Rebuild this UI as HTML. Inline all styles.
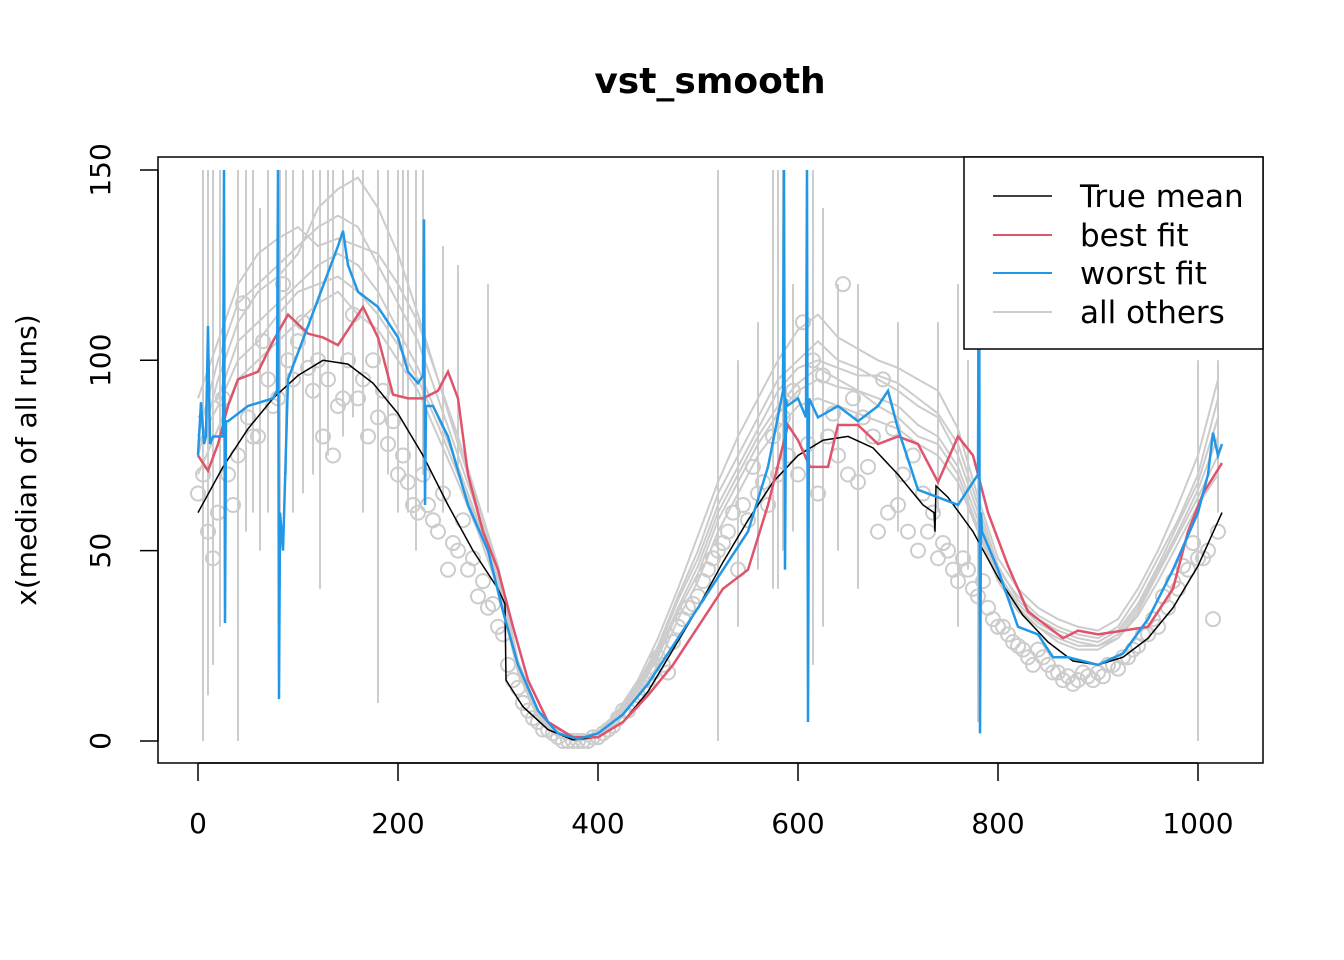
<!DOCTYPE html>
<html><head><meta charset="utf-8"><style>
html,body{margin:0;padding:0;background:#fff;}
svg{display:block;font-family:"DejaVu Sans","Liberation Sans",sans-serif;}
</style></head><body>
<svg id="chart" width="1344" height="960" viewBox="0 0 1344 960">
<text x="710" y="93" text-anchor="middle" font-size="36" font-weight="bold">vst_smooth</text>
<g id="plot"></g>
<rect x="158" y="157" width="1105" height="606" fill="none" stroke="#000" stroke-width="1.5"/>
<g id="axes"></g>
<text transform="translate(36,460) rotate(-90)" text-anchor="middle" font-size="28">x(median of all runs)</text>
<g>
<rect x="964" y="157" width="299" height="192" fill="#fff" stroke="#000" stroke-width="1.5"/>
<line x1="993" y1="196" x2="1052" y2="196" stroke="#000" stroke-width="1.5"/>
<text x="1080" y="207" font-size="31">True mean</text>
<line x1="993" y1="235" x2="1052" y2="235" stroke="#DF536B" stroke-width="2"/>
<text x="1080" y="246" font-size="31">best fit</text>
<line x1="993" y1="273" x2="1052" y2="273" stroke="#2297E6" stroke-width="2"/>
<text x="1080" y="284" font-size="31">worst fit</text>
<line x1="993" y1="312" x2="1052" y2="312" stroke="#cccccc" stroke-width="2"/>
<text x="1080" y="323" font-size="31">all others</text>
</g>
</svg>
<script>
const xTicks=[0,200,400,600,800,1000];
const yTicks=[0,50,100,150];
const trueX=[0,25,50,75,100,125,150,175,200,225,250,275,300,307,308,325,350,375,400,425,450,475,500,525,550,575,600,625,650,675,700,725,736,737,738,750,775,800,825,850,875,900,925,950,975,1000,1024];
const trueY=[60,72,82,90,96,100,99,94,86,75,62,50,40,36,16,9,3,0.3,1,5,13,24,35,47,58,68,75,79,80,77,70,62,60,55,67,64,55,43,33,26,21,20,22,27,35,46,60];
const bestX=[0,10,20,30,40,60,75,90,110,125,140,165,180,195,210,225,240,250,260,270,285,300,315,330,350,375,400,425,450,475,500,525,550,570,590,600,612,630,640,660,680,700,720,740,760,775,790,810,830,850,865,880,900,925,950,975,990,1005,1024];
const bestY=[75,71,78,88,95,97,105,112,107,106,104,114,106,91,90,90,92,97,90,70,55,45,30,16,5,1,1,5,12,20,30,40,45,62,83,79,72,72,83,83,78,80,78,68,80,75,60,46,34,30,27,29,28,29,30,40,55,65,73];
const worstX=[0,3,6,8,10,12,15,25,26,27,28,30,50,75,79,80,81,82,85,90,110,140,145,150,160,180,200,210,220,225,226,227,228,235,250,270,290,305,320,340,360,380,400,425,450,475,500,525,550,570,585,586,587,588,589,600,608,609,610,611,620,640,660,680,690,700,720,740,760,780,781,782,783,784,800,820,840,855,870,900,925,950,975,1000,1010,1015,1020,1024];
const worstY=[75,89,78,80,109,78,80,80,150,31,84,84,88,90,92,150,11,60,50,95,109,130,134,125,118,114,106,97,94,96,137,62,88,88,80,62,50,34,20,8,2,0.5,2,7,15,25,35,45,55,72,92,150,45,90,88,90,85,150,5,90,85,88,84,88,92,82,66,64,62,70,150,2,60,55,45,30,28,22,22,20,23,32,45,60,70,81,75,78];
const grayX=[0,20,40,60,80,100,120,140,160,180,200,220,240,260,280,300,320,340,360,380,400,420,440,460,480,500,520,540,560,580,600,620,640,660,680,700,720,740,760,780,800,820,840,860,880,900,920,940,960,980,1000,1020];
const gray1=[80,100,115,120,125,130,135,138,135,125,115,105,90,75,60,45,20,8,2,1,2,7,15,25,38,50,65,75,85,95,100,105,100,98,95,92,88,85,75,60,45,38,33,30,28,27,30,38,48,58,70,90];
const gray2=[70,82,95,100,105,110,115,118,112,108,100,92,80,68,55,40,18,6,1,0,1,5,12,20,32,42,55,65,75,82,88,90,88,86,84,82,78,75,68,55,42,34,30,26,24,24,27,33,42,52,62,70];
const gray3=[85,90,105,110,115,120,125,128,125,118,108,98,85,72,58,43,19,7,1,0,2,6,14,23,35,46,60,70,80,88,94,98,95,92,90,88,83,80,72,58,44,36,31,28,26,25,28,35,45,55,66,80];
const gray4=[75,95,110,118,122,128,140,145,148,140,128,112,95,80,63,46,21,8,2,1,2,8,16,27,40,54,68,80,90,100,108,112,106,103,100,98,95,92,82,64,48,40,35,32,30,29,32,40,50,62,75,95];
const gray5=[78,88,100,105,112,118,120,122,118,112,104,95,83,70,57,42,19,6,1,0,1,6,13,22,34,44,58,68,78,86,92,95,93,92,88,85,80,78,70,56,43,35,30,27,25,25,27,34,44,54,64,75];
const gray6=[90,105,120,128,132,135,130,132,130,128,120,110,95,78,62,46,20,7,2,0,2,7,14,24,37,48,62,72,82,92,98,100,98,96,96,94,90,86,78,62,46,37,32,29,27,26,29,36,46,57,68,85];
const spikeX=[5,10,15,22,40,48,55,62,70,82,88,95,105,115,122,130,135,145,155,165,180,190,200,205,210,218,225,245,260,290,520,540,560,575,580,585,595,615,625,640,660,700,740,760,770,780,1000,1020];
const spikeLo=[0,12,20,30,0,55,60,50,60,40,70,60,65,70,40,75,100,80,85,60,10,70,60,90,60,50,70,60,70,60,0,30,45,40,40,50,55,20,30,50,40,55,60,30,45,5,0,60];
const spikeHi=[150,150,150,150,150,150,150,140,150,150,150,150,150,150,150,150,150,150,150,150,150,150,150,150,150,150,150,130,125,120,150,100,110,150,150,150,120,150,140,120,120,110,110,120,100,120,100,100];
const obsX=[];for(let i=0;i<=102;i++)obsX.push(i*10);
const obsY=[65,55,60,70,75,85,80,95,90,100,105,98,100,95,88,100,90,80,85,78,70,68,60,62,55,45,50,45,38,35,30,20,14,8,5,3,1,0,0,0,1,3,6,8,12,16,22,18,30,35,38,45,50,55,45,58,65,62,70,75,70,78,65,80,75,70,68,72,55,60,62,55,50,55,48,50,42,45,38,35,30,28,25,22,24,20,18,17,16,17,18,20,19,22,25,28,30,35,40,45,48,50,55];
const obs2X=[];for(let i=0;i<=101;i++)obs2X.push(5+i*10);
const obs2Y=[70,48,90,62,115,80,105,88,120,95,110,92,80,75,90,112,95,100,92,84,75,62,70,58,65,52,58,48,42,36,28,16,10,6,3,2,0,0,0,1,2,4,8,10,14,18,20,26,32,36,42,48,52,60,62,72,68,80,85,92,110,100,96,86,120,90,85,80,95,82,70,75,65,60,52,45,48,40,42,32,30,26,24,20,22,18,16,15,18,16,17,20,22,24,28,32,38,42,46,52,48,32];

const NS='http://www.w3.org/2000/svg';
const sx=v=>198+v*1.0;
const sy=v=>741-v*3.807;
const plot=document.getElementById('plot');
const axes=document.getElementById('axes');
function mk(tag,attrs,parent){const e=document.createElementNS(NS,tag);for(const k in attrs)e.setAttribute(k,attrs[k]);parent.appendChild(e);return e;}
function clampY(v){return Math.max(157,Math.min(763,sy(v)));}
function pts(xs,ys){return xs.map((x,i)=>sx(x)+','+clampY(ys[i])).join(' ');}

for(let i=0;i<spikeX.length;i++){
  const l=mk('line',{x1:sx(spikeX[i]),x2:sx(spikeX[i]),y1:clampY(spikeLo[i]),y2:clampY(spikeHi[i]),stroke:'#cccccc','stroke-width':2},plot);
  
  
}
[gray1,gray2,gray3,gray4,gray5,gray6].forEach(g=>{
  const p=mk('polyline',{points:pts(grayX,g),fill:'none',stroke:'#cccccc','stroke-width':2},plot);
  
  
});
function drawObs(xs,ys){
  for(let i=0;i<xs.length;i++){
    const c=mk('circle',{cx:sx(xs[i]),cy:sy(ys[i]),r:7,fill:'none',stroke:'#cccccc','stroke-width':2},plot);
    
    
  }
}
drawObs(obsX,obsY);
drawObs(obs2X,obs2Y);
const tm=mk('polyline',{points:pts(trueX,trueY),fill:'none',stroke:'#000','stroke-width':1.5},plot);


const bf=mk('polyline',{points:pts(bestX,bestY),fill:'none',stroke:'#DF536B','stroke-width':2.5},plot);


const wf=mk('polyline',{points:pts(worstX,worstY),fill:'none',stroke:'#2297E6','stroke-width':2.5},plot);



mk('line',{x1:sx(xTicks[0]),x2:sx(xTicks[xTicks.length-1]),y1:763,y2:763,stroke:'#000','stroke-width':1.5},axes);
xTicks.forEach(t=>{
  mk('line',{x1:sx(t),x2:sx(t),y1:763,y2:781,stroke:'#000','stroke-width':1.5},axes);
  const tx=mk('text',{x:sx(t),y:833,'text-anchor':'middle','font-size':28},axes);
  tx.textContent=t;
  
  
});
yTicks.forEach(t=>{
  mk('line',{x1:140,x2:158,y1:sy(t),y2:sy(t),stroke:'#000','stroke-width':1.5},axes);
  const tx=mk('text',{transform:'translate(110,'+sy(t)+') rotate(-90)','text-anchor':'middle','font-size':28},axes);
  tx.textContent=t;
  
  
});
mk('line',{x1:158,x2:158,y1:sy(yTicks[0]),y2:sy(yTicks[yTicks.length-1]),stroke:'#000','stroke-width':1.5},axes);
</script>
</body></html>
